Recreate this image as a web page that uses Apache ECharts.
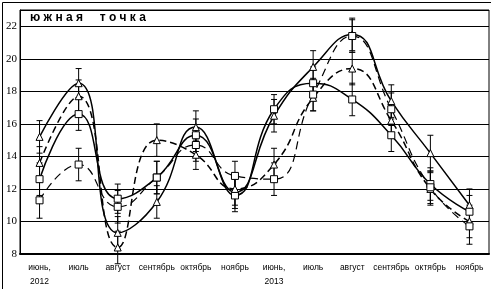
<!DOCTYPE html>
<html>
<head>
<meta charset="utf-8">
<script src="https://cdn.jsdelivr.net/npm/echarts@6/dist/echarts.min.js"></script>
<style>
  html, body { margin: 0; padding: 0; background: #fff; }
  #main { width: 491px; height: 289px; }
</style>
</head>
<body>
<div id="main"></div>
<script>
// месяцы наблюдений
var months = ['июнь,\n2012', 'июль', 'август', 'сентябрь', 'октябрь', 'ноябрь',
              'июнь,\n2013', 'июль', 'август', 'сентябрь', 'октябрь', 'ноябрь'];
var yTicks = [8, 10, 12, 14, 16, 18, 20, 22];

// значения по рядам (сплошные / пунктир)
var solidTri   = [15.2, 18.5, 9.3, 11.2, 15.8, 11.8, 16.5, 19.5, 21.5, 17.4, 14.2, 11.0];
var solidSq    = [12.6, 16.6, 11.4, 12.7, 15.3, 11.6, 16.9, 18.5, 17.5, 15.3, 12.3, 10.6];
var dashTri    = [13.6, 17.7, 8.4, 15.0, 14.1, 12.0, 13.5, 17.6, 19.4, 16.2, 12.0, 10.0];
var dashSq     = [11.3, 13.5, 10.9, 12.7, 14.7, 12.8, 12.6, 17.8, 21.4, 16.9, 12.1, 9.7];

// погрешности
var errSolidTri = [1.0, 0.9, 1.0, 1.0, 1.0, 1.0, 1.0, 1.0, 1.0, 1.0, 1.1, 1.0];
var errSolidSq  = [1.0, 1.0, 0.9, 1.0, 1.0, 1.0, 0.9, 1.0, 1.0, 1.0, 1.0, 1.0];
var errDashTri  = [1.0, 1.0, 1.0, 1.0, 0.9, 1.0, 1.0, 0.8, 1.0, 1.0, 1.0, 1.0];
var errDashSq   = [1.1, 1.0, 1.0, 1.0, 1.0, 0.9, 1.0, 1.0, 1.0, 1.0, 1.0, 1.1];

var chart = echarts.init(document.getElementById('main'));

function errData(vals, errs) {
  var out = [];
  for (var i = 0; i < vals.length; i++) {
    out.push([i, vals[i], errs[i]]);
  }
  return out;
}

function renderErr(params, api) {
  var x = api.value(0), v = api.value(1), e = api.value(2);
  var hi = api.coord([x, v + e]);
  var lo = api.coord([x, v - e]);
  var st = { stroke: '#000', lineWidth: 1 };
  return {
    type: 'group',
    children: [
      { type: 'line', shape: { x1: hi[0], y1: hi[1], x2: lo[0], y2: lo[1] }, style: st },
      { type: 'line', shape: { x1: hi[0] - 3, y1: hi[1], x2: hi[0] + 3, y2: hi[1] }, style: st },
      { type: 'line', shape: { x1: lo[0] - 3, y1: lo[1], x2: lo[0] + 3, y2: lo[1] }, style: st }
    ]
  };
}

function lineSeries(name, data, symbol, dash, width) {
  return {
    name: name,
    type: 'line',
    data: data,
    smooth: 0.5,
    symbol: symbol,
    symbolSize: 7,
    itemStyle: { color: '#fff', borderColor: '#000', borderWidth: 1 },
    lineStyle: { color: '#000', width: width, type: dash },
    z: 3
  };
}

function errSeries(vals, errs) {
  return {
    type: 'custom',
    renderItem: renderErr,
    data: errData(vals, errs),
    encode: { x: 0, y: 1 },
    z: 2,
    silent: true
  };
}

var option = {
  animation: false,
  backgroundColor: '#fff',
  grid: {
    left: 20, right: 2, top: 10, bottom: 32,
    show: true, borderColor: '#000', borderWidth: 1
  },
  xAxis: {
    type: 'category',
    data: months,
    axisLine: { lineStyle: { color: '#000', width: 2 } },
    axisTick: { inside: true, length: 3, lineStyle: { color: '#000' } },
    axisLabel: {
      color: '#000',
      fontFamily: '"Liberation Sans", Arial, sans-serif',
      fontSize: 8.5,
      lineHeight: 14,
      margin: 7,
      interval: 0
    }
  },
  yAxis: {
    type: 'value',
    min: 8, max: 23, interval: 2,
    axisLine: { show: true, lineStyle: { color: '#000' } },
    axisTick: { show: false },
    splitLine: { lineStyle: { color: '#000', width: 1 } },
    axisLabel: {
      color: '#000',
      fontFamily: '"Liberation Serif", serif',
      fontSize: 11,
      margin: 3,
      showMaxLabel: false,
      formatter: function (v) { return yTicks.indexOf(v) >= 0 ? String(v) : ''; }
    }
  },
  graphic: [
    {
      type: 'rect', left: 0, top: 0,
      shape: { x: 0.5, y: 0.5, width: 490, height: 288 },
      style: { fill: 'none', stroke: '#000', lineWidth: 1 }, z: 100
    },
    {
      type: 'text', left: 30, top: 12,
      style: {
        text: 'ю ж н а я     т о ч к а',
        font: 'bold 12px "Liberation Sans", Arial, sans-serif',
        fill: '#000'
      }, z: 100
    }
  ],
  series: [
    errSeries(solidTri, errSolidTri),
    errSeries(solidSq, errSolidSq),
    errSeries(dashTri, errDashTri),
    errSeries(dashSq, errDashSq),
    lineSeries('solidTri', solidTri, 'triangle', 'solid', 1.5),
    lineSeries('solidSq', solidSq, 'rect', 'solid', 1.5),
    lineSeries('dashTri', dashTri, 'triangle', [7, 4], 1.5),
    lineSeries('dashSq', dashSq, 'rect', [8, 5], 1.2)
  ]
};

chart.setOption(option);
</script>
</body>
</html>
